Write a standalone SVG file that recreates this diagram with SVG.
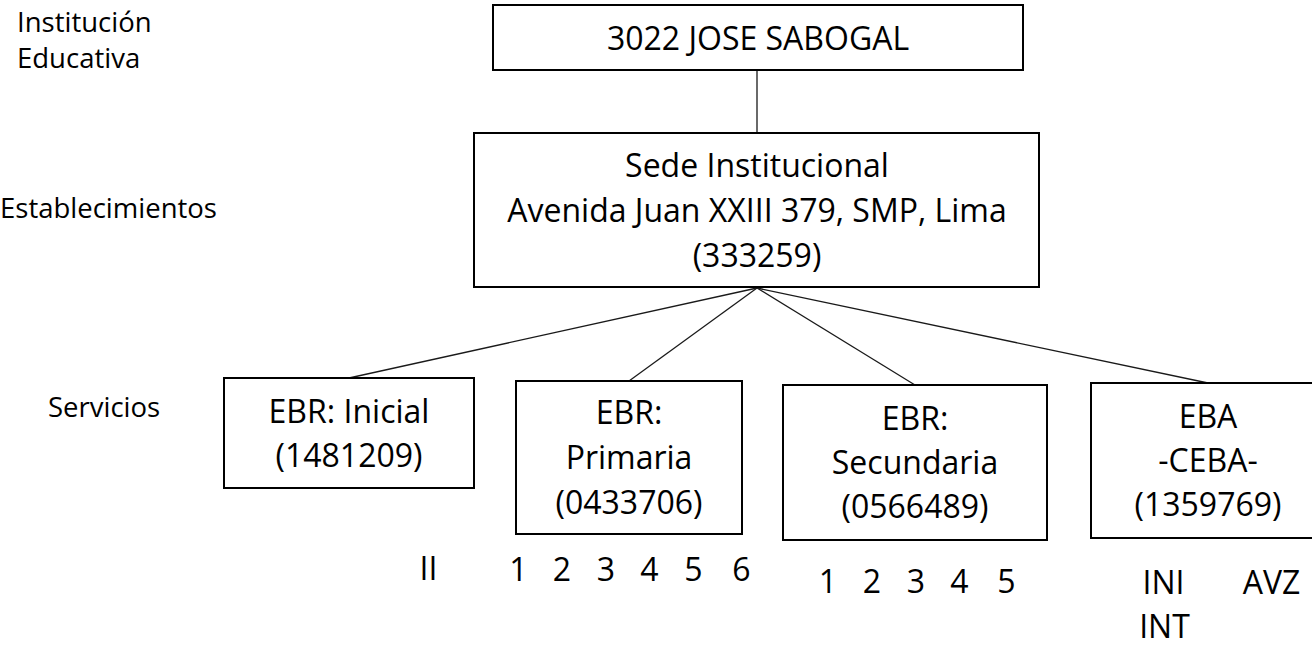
<svg xmlns="http://www.w3.org/2000/svg" width="1312" height="645" viewBox="0 0 1312 645">
<style>
.box{fill:#fff;stroke:#000;stroke-width:2}
.t{font-family:"Open Sans","Liberation Sans",sans-serif;font-size:32px;fill:#000;text-anchor:middle}
.lbl{font-family:"Open Sans","Liberation Sans",sans-serif;font-size:27.5px;fill:#000}
.c{stroke:#1a1a1a;stroke-width:1.3;fill:none}
</style>
<rect width="1312" height="645" fill="#fff"/>
<g id="connectors">
<line class="c" x1="757" y1="70" x2="757" y2="133"/>
<line class="c" x1="757" y1="288" x2="349" y2="378"/>
<line class="c" x1="757" y1="288" x2="629" y2="381"/>
<line class="c" x1="757" y1="288" x2="915" y2="385"/>
<line class="c" x1="757" y1="288" x2="1208" y2="383"/>
</g>
<g id="labels">
<text class="lbl" x="17" y="32">Institución</text>
<text class="lbl" x="17" y="68">Educativa</text>
<text class="lbl" x="0" y="218">Establecimientos</text>
<text class="lbl" x="48" y="417">Servicios</text>
</g>
<g id="node-ie">
<rect class="box" x="493" y="5" width="530" height="65"/>
<text class="t" x="758" y="50">3022 JOSE SABOGAL</text>
</g>
<g id="node-sede">
<rect class="box" x="474" y="133" width="565" height="154"/>
<text class="t" x="757" y="177">Sede Institucional</text>
<text class="t" x="757" y="222">Avenida Juan XXIII 379, SMP, Lima</text>
<text class="t" x="757" y="267">(333259)</text>
</g>
<g id="node-inicial">
<rect class="box" x="224" y="378" width="250" height="110"/>
<text class="t" x="349" y="423">EBR: Inicial</text>
<text class="t" x="349" y="467">(1481209)</text>
<text class="t" x="428.5" y="580">II</text>
</g>
<g id="node-primaria">
<rect class="box" x="516" y="381" width="226" height="153"/>
<text class="t" x="629" y="424">EBR:</text>
<text class="t" x="629" y="469">Primaria</text>
<text class="t" x="629" y="514">(0433706)</text>
<text class="t" y="581"><tspan x="522.5">1</tspan> <tspan x="566">2</tspan> <tspan x="610">3</tspan> <tspan x="653.5">4</tspan> <tspan x="697.5">5</tspan> <tspan x="741.5">6</tspan></text>
</g>
<g id="node-secundaria">
<rect class="box" x="783" y="385" width="264" height="155"/>
<text class="t" x="915" y="430">EBR:</text>
<text class="t" x="915" y="474">Secundaria</text>
<text class="t" x="915" y="518">(0566489)</text>
<text class="t" y="593"><tspan x="832">1</tspan> <tspan x="876">2</tspan> <tspan x="920">3</tspan> <tspan x="963.5">4</tspan> <tspan x="1006.5">5</tspan></text>
</g>
<g id="node-eba">
<rect class="box" x="1091" y="383" width="234" height="155"/>
<text class="t" x="1208" y="428">EBA</text>
<text class="t" x="1208" y="472">-CEBA-</text>
<text class="t" x="1208" y="516">(1359769)</text>
<text class="t" x="1163.5" y="594">INI</text>
<text class="t" x="1271.5" y="594">AVZ</text>
<text class="t" x="1164.5" y="638">INT</text>
</g>
</svg>
